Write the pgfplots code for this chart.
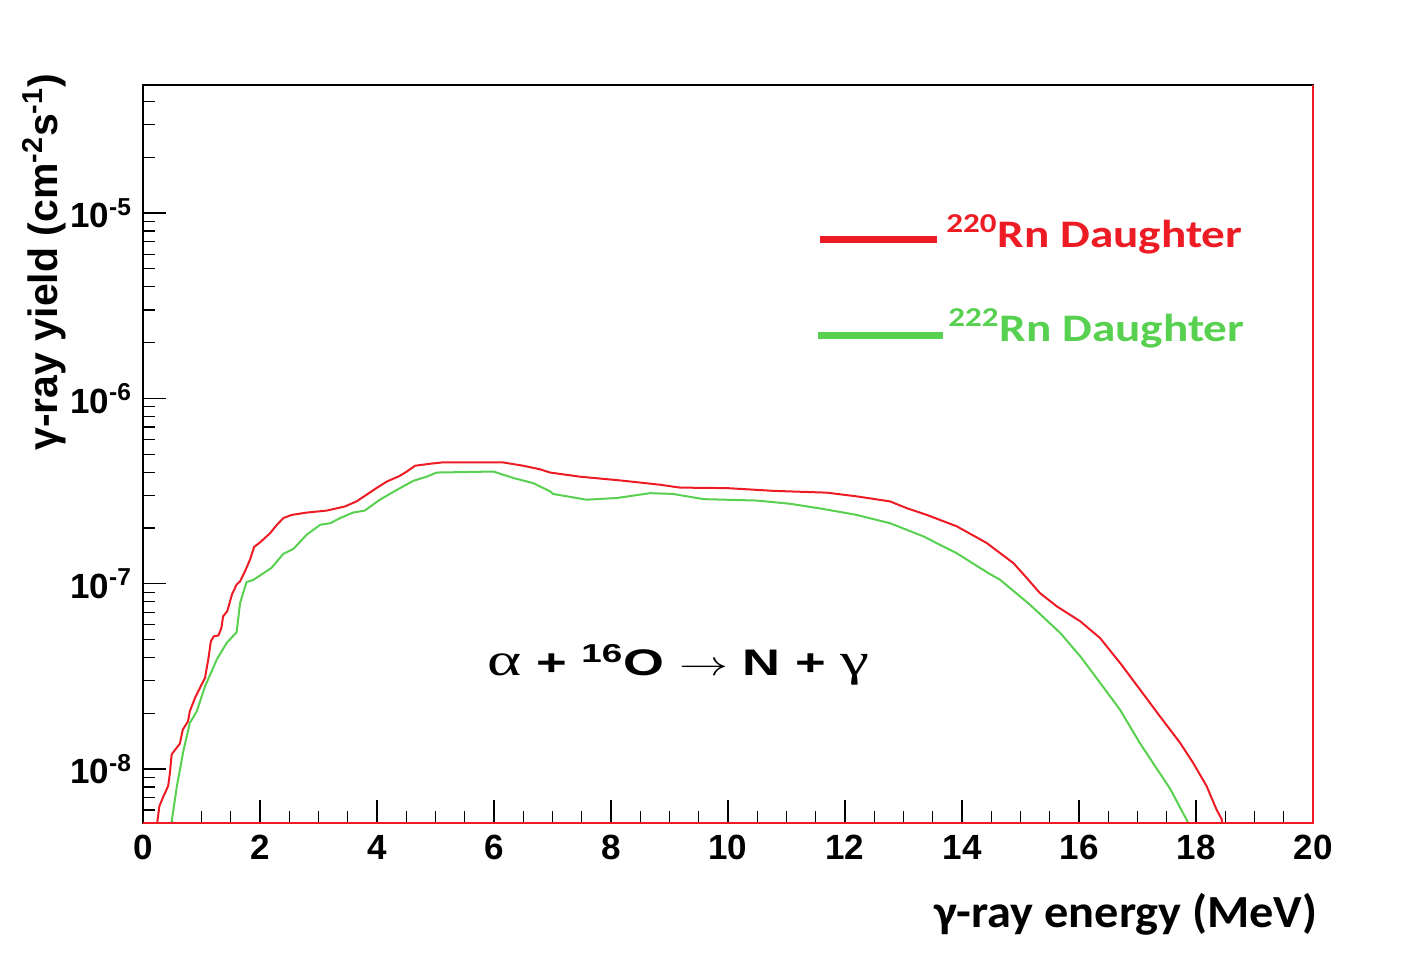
\documentclass[border=0pt]{standalone}
\usepackage{fontspec}
\setmainfont{Liberation Sans}
\newfontfamily\carlito{Carlito}
\newfontfamily\lserif{Liberation Serif}
\usepackage{graphicx}
\usepackage{pgfplots}
\pgfplotsset{compat=1.18}
\definecolor{rootred}{RGB}{237,28,36}
\definecolor{rootgreen}{RGB}{88,208,80}
\begin{document}
\begin{tikzpicture}
\useasboundingbox (-71.5pt,-68pt) rectangle (635pt,411.5pt);
\begin{semilogyaxis}[
  scale only axis, width=585pt, height=369pt,
  xmin=0, xmax=20, ymin=5.11e-9, ymax=4.91e-5,
  xtick={0,2,...,20}, minor x tick num=3,
  tick pos=left, tick align=inside,
  major tick length=11.5pt, minor tick length=6pt,
  axis line style={line width=1pt},
  every tick/.style={black, line width=0.6pt},
  /pgf/number format/assume math mode=true,
  tick label style={font=\fontsize{17.5}{20}\selectfont\bfseries},
  xticklabel style={yshift=-2.5pt},
  yticklabel style={xshift=-2pt},
  yticklabel={\pgfmathparse{int(round(\tick/2.302585093))}10\textsuperscript{\pgfmathresult}},
  clip mode=individual,
  xlabel={\scalebox{1.05}[1]{γ-ray energy (MeV)}},
  every axis x label/.style={at={(axis description cs:1.01,-0.141)}, anchor=base east, font=\carlito\fontsize{23}{26}\selectfont\bfseries},
  ylabel={γ-ray yield (cm\textsuperscript{-2}s\textsuperscript{-1})},
  every axis y label/.style={at={(axis description cs:-0.0846,0.76)}, rotate=90, anchor=center, font=\fontsize{20.5}{24}\selectfont\bfseries},
]
\addplot[rootred, line width=1pt] coordinates {
(0.22,4.5e-9) (0.28,6.3e-9) (0.34,7.0e-9) (0.43,8.1e-9) (0.46,9.5e-9) (0.49,1.20e-8)
(0.63,1.37e-8) (0.68,1.63e-8) (0.77,1.81e-8) (0.80,2.05e-8) (0.89,2.42e-8) (1.00,2.85e-8)
(1.06,3.10e-8) (1.12,3.98e-8) (1.16,4.89e-8) (1.21,5.20e-8) (1.29,5.26e-8) (1.34,5.77e-8)
(1.37,6.67e-8) (1.44,7.10e-8) (1.52,8.73e-8) (1.60,9.89e-8) (1.66,1.03e-7) (1.74,1.16e-7)
(1.83,1.35e-7) (1.90,1.58e-7) (2.00,1.67e-7) (2.17,1.87e-7) (2.29,2.08e-7) (2.40,2.26e-7)
(2.54,2.35e-7) (2.80,2.42e-7) (3.14,2.48e-7) (3.45,2.61e-7) (3.65,2.78e-7) (3.82,3.02e-7)
(3.99,3.28e-7) (4.17,3.56e-7) (4.39,3.82e-7) (4.51,4.03e-7) (4.65,4.33e-7) (4.91,4.44e-7)
(5.11,4.51e-7) (6.16,4.51e-7) (6.50,4.33e-7) (6.79,4.14e-7) (6.96,3.98e-7) (7.47,3.78e-7)
(8.15,3.61e-7) (8.84,3.42e-7) (9.18,3.30e-7) (9.98,3.28e-7) (10.77,3.17e-7) (11.69,3.10e-7)
(12.20,2.96e-7) (12.77,2.78e-7) (13.05,2.56e-7) (13.40,2.35e-7) (13.91,2.04e-7) (14.42,1.66e-7)
(14.88,1.29e-7) (15.10,1.08e-7) (15.33,8.91e-8) (15.62,7.55e-8) (16.02,6.27e-8) (16.36,5.09e-8) (16.70,3.74e-8)
(17.04,2.69e-8) (17.38,1.93e-8) (17.73,1.38e-8) (17.95,1.08e-8) (18.18,8.1e-9) (18.35,6.05e-9)
(18.44,5.35e-9) (18.46,4.5e-9)
};
\addplot[rootgreen, line width=1pt] coordinates {
(0.46,4.5e-9) (0.58,8.1e-9) (0.69,1.25e-8) (0.80,1.77e-8) (0.92,2.05e-8) (1.06,2.79e-8)
(1.26,3.89e-8) (1.43,4.79e-8) (1.60,5.47e-8) (1.66,7.87e-8) (1.77,1.02e-7) (1.89,1.05e-7)
(2.20,1.22e-7) (2.40,1.45e-7) (2.57,1.54e-7) (2.80,1.84e-7) (3.03,2.08e-7) (3.20,2.12e-7)
(3.37,2.26e-7) (3.59,2.42e-7) (3.79,2.48e-7) (4.05,2.84e-7) (4.34,3.21e-7) (4.62,3.59e-7)
(4.85,3.78e-7) (5.02,3.98e-7) (5.99,4.03e-7) (6.33,3.72e-7) (6.67,3.49e-7) (6.96,3.15e-7)
(7.01,3.05e-7) (7.58,2.84e-7) (8.10,2.90e-7) (8.67,3.08e-7) (9.06,3.05e-7) (9.58,2.86e-7)
(10.49,2.81e-7) (11.06,2.70e-7) (11.63,2.53e-7) (12.20,2.35e-7) (12.77,2.12e-7) (13.34,1.80e-7)
(13.91,1.46e-7) (14.45,1.14e-7) (14.65,1.05e-7) (15.16,7.71e-8) (15.68,5.42e-8) (16.02,4.06e-8)
(16.36,2.92e-8) (16.70,2.09e-8) (17.04,1.38e-8) (17.38,9.5e-9) (17.56,7.8e-9) (17.87,5.1e-9)
(17.90,4.5e-9)
};
\draw[rootred, line width=0.8pt] (rel axis cs:0,0) -- (rel axis cs:1,0) -- (rel axis cs:1,1);
\draw[rootred, line width=3.5pt] (rel axis cs:0.5786,0.7913) -- (rel axis cs:0.6786,0.7913);
\draw[rootgreen, line width=3.5pt] (rel axis cs:0.5769,0.6612) -- (rel axis cs:0.6838,0.6612);
\node[anchor=base west, text=rootred, font=\carlito\fontsize{19.5}{22}\selectfont\bfseries, inner sep=0pt]
  at (rel axis cs:0.6863,0.7795) {\scalebox{1.21}[1]{\textsuperscript{220}Rn Daughter}};
\node[anchor=base west, text=rootgreen, font=\carlito\fontsize{19.5}{22}\selectfont\bfseries, inner sep=0pt]
  at (rel axis cs:0.688,0.652) {\scalebox{1.21}[1]{\textsuperscript{222}Rn Daughter}};
\node[anchor=base west, font=\fontsize{18.5}{21}\selectfont\bfseries, inner sep=0pt]
  at (rel axis cs:0.294,0.2005) {\scalebox{1.42}[1]{{\lserif\mdseries\fontsize{23}{25}\selectfont α} + \textsuperscript{16}O $\rightarrow$ N + {\lserif\mdseries\fontsize{23}{25}\selectfont γ}}};
\end{semilogyaxis}
\end{tikzpicture}
\end{document}
